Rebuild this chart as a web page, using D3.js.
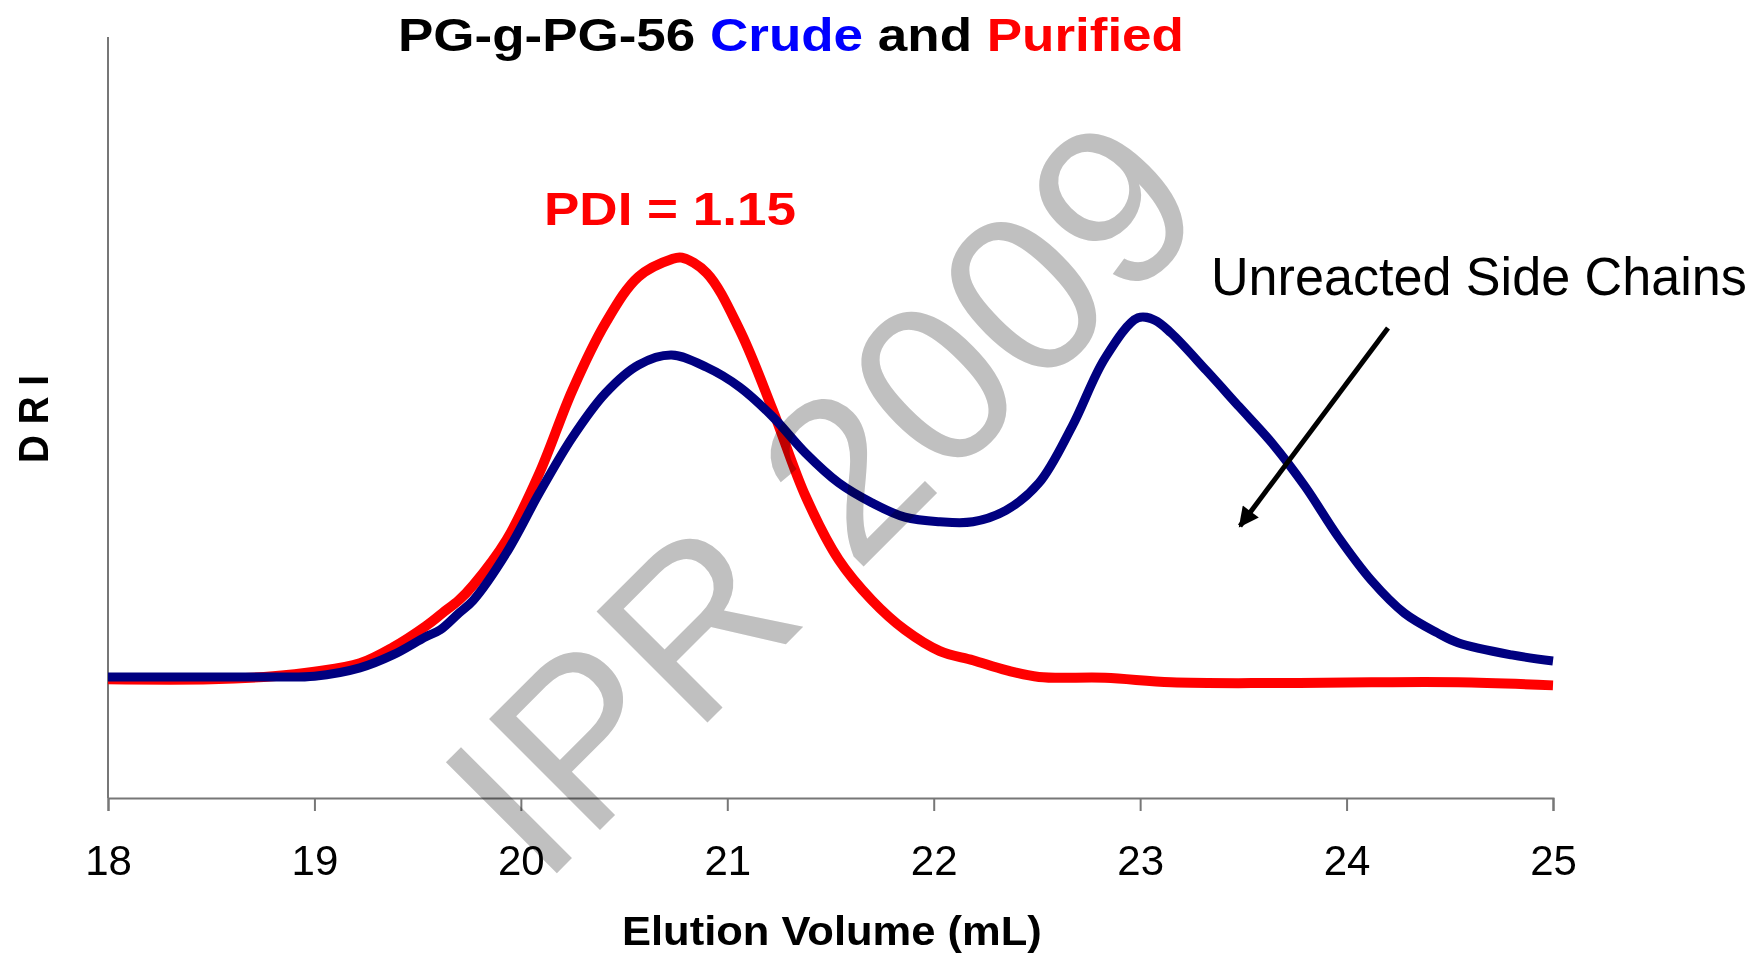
<!DOCTYPE html>
<html>
<head>
<meta charset="utf-8">
<script src="https://cdn.jsdelivr.net/npm/d3@7"></script>
<style>
  body { margin: 0; background: #fff; }
  svg { display: block; font-family: "Liberation Sans", Arial, sans-serif; }
</style>
</head>
<body>
<div class="gpc-chart"></div>
<script>
// elution volume (mL) and DRI readings (arbitrary units) for each trace
const crudeVolume = [18.0, 18.5, 18.8, 19.0, 19.22, 19.38, 19.54, 19.61, 19.70, 19.77, 19.93, 20.09, 20.25, 20.41, 20.57, 20.73, 20.90, 21.06, 21.22, 21.38, 21.54, 21.70, 21.86, 22.03, 22.19, 22.35, 22.51, 22.67, 22.83, 22.99, 23.07, 23.15, 23.32, 23.48, 23.64, 23.80, 23.96, 24.12, 24.28, 24.44, 24.54, 24.8, 25.0];
const crudeDRI = [15.9, 15.9, 15.9, 16.0, 17.1, 18.8, 21.2, 22.1, 24.3, 26.0, 32.2, 40.1, 47.4, 53.2, 56.9, 58.2, 56.6, 54.0, 50.1, 45.3, 41.4, 38.8, 36.9, 36.3, 36.3, 37.8, 41.4, 48.8, 57.8, 63.1, 62.8, 61.1, 56.2, 51.4, 46.6, 40.9, 34.3, 28.6, 24.3, 21.7, 20.4, 18.8, 18.0];

const purifiedVolume = [18.0, 18.5, 18.8, 19.0, 19.22, 19.38, 19.54, 19.62, 19.70, 19.77, 19.93, 20.09, 20.25, 20.41, 20.57, 20.73, 20.78, 20.90, 21.06, 21.22, 21.38, 21.54, 21.70, 21.86, 22.03, 22.19, 22.35, 22.51, 22.83, 23.15, 23.64, 24.12, 24.54, 25.0];
const purifiedDRI = [15.6, 15.6, 16.0, 16.6, 17.7, 19.8, 22.6, 24.3, 26.0, 28.0, 33.9, 42.7, 53.6, 62.4, 68.5, 70.8, 71.0, 69.0, 61.5, 51.0, 39.6, 31.3, 26.0, 22.1, 19.3, 18.1, 16.8, 15.9, 15.8, 15.2, 15.1, 15.2, 15.2, 14.8];

const xTicks = [18, 19, 20, 21, 22, 23, 24, 25];

const margin = {top: 37, right: 205, bottom: 159, left: 108};
const fullW = 1758;
const fullH = 957;
const width = fullW - margin.left - margin.right;
const height = fullH - margin.top - margin.bottom;

const svg = d3.select('.gpc-chart').append('svg')
  .attr('width', fullW)
  .attr('height', fullH);

const x = d3.scaleLinear().domain([18, 25]).range([margin.left, margin.left + width]);
const y = d3.scaleLinear().domain([0, 100]).range([margin.top + height, margin.top]);

// stretch a start-anchored text to the measured width
function fitText (sel, x0, y0, w) {
  let bw = sel.node().getBBox().width;
  sel.attr('transform', 'translate(' + x0 + ',' + y0 + ') scale(' + (w / bw) + ',1)');
}

// axes
const xAxis = svg.append('g')
  .attr('transform', 'translate(0,' + (margin.top + height) + ')')
  .call(d3.axisBottom(x).tickValues(xTicks).tickSize(13).tickFormat(d3.format('d')));
xAxis.select('.domain').attr('stroke', '#777').attr('stroke-width', 2);
xAxis.selectAll('.tick line').attr('stroke', '#777').attr('stroke-width', 2);
xAxis.selectAll('.tick text')
  .attr('y', 77).attr('dy', 0)
  .attr('fill', '#000')
  .style('font-family', '"Liberation Sans", Arial, sans-serif')
  .style('font-size', '42px');

svg.append('line')
  .attr('x1', margin.left).attr('x2', margin.left)
  .attr('y1', margin.top).attr('y2', margin.top + height)
  .attr('stroke', '#777').attr('stroke-width', 2);

// traces
const line = d3.line()
  .x(d => x(d[0]))
  .y(d => y(d[1]))
  .curve(d3.curveCatmullRom);

svg.append('path')
  .datum(purifiedVolume.map((v, i) => [v, purifiedDRI[i]]))
  .attr('d', line)
  .attr('fill', 'none')
  .attr('stroke', '#ff0000')
  .attr('stroke-width', 10)
  .attr('stroke-linejoin', 'round');

svg.append('path')
  .datum(crudeVolume.map((v, i) => [v, crudeDRI[i]]))
  .attr('d', line)
  .attr('fill', 'none')
  .attr('stroke', '#000080')
  .attr('stroke-width', 9)
  .attr('stroke-linejoin', 'round');

// title
const title = svg.append('text')
  .style('font-size', '46px')
  .style('font-weight', 'bold');
title.append('tspan').attr('fill', '#000').text('PG-g-PG-56 ');
title.append('tspan').attr('fill', '#0000ff').text('Crude');
title.append('tspan').attr('fill', '#000').text(' and ');
title.append('tspan').attr('fill', '#ff0000').text('Purified');
fitText(title, 398, 51, 786);

const pdi = svg.append('text')
  .attr('fill', '#ff0000')
  .style('font-size', '46px')
  .style('font-weight', 'bold')
  .text('PDI = 1.15');
fitText(pdi, 544, 225, 252);

const note = svg.append('text')
  .attr('fill', '#000')
  .style('font-size', '54px')
  .text('Unreacted Side Chains');
fitText(note, 1211, 295, 536);

// arrow
svg.append('defs').append('marker')
  .attr('id', 'head')
  .attr('viewBox', '0 0 10 10')
  .attr('refX', 9).attr('refY', 5)
  .attr('markerWidth', 5).attr('markerHeight', 4)
  .attr('markerUnits', 'strokeWidth')
  .attr('orient', 'auto')
  .append('path')
  .attr('d', 'M0,0 L10,5 L0,10 Z')
  .attr('fill', '#000');

svg.append('line')
  .attr('x1', 1388).attr('y1', 328)
  .attr('x2', 1240).attr('y2', 526)
  .attr('stroke', '#000')
  .attr('stroke-width', 5)
  .attr('marker-end', 'url(#head)');

// axis titles
const xTitle = svg.append('text')
  .attr('fill', '#000')
  .style('font-size', '41px')
  .style('font-weight', 'bold')
  .text('Elution Volume (mL)');
fitText(xTitle, 622, 945, 420);

svg.append('text')
  .attr('transform', 'translate(48,463) rotate(-90) scale(0.92,1)')
  .attr('fill', '#000')
  .style('font-size', '42px')
  .style('font-weight', 'bold')
  .text('D R I');

// watermark
svg.append('text')
  .attr('transform', 'translate(878,552) rotate(-45)')
  .attr('text-anchor', 'middle')
  .attr('fill', '#c0c0c0')
  .style('mix-blend-mode', 'multiply')
  .style('font-size', '228px')
  .text('IPR 2009');
</script>
</body>
</html>
